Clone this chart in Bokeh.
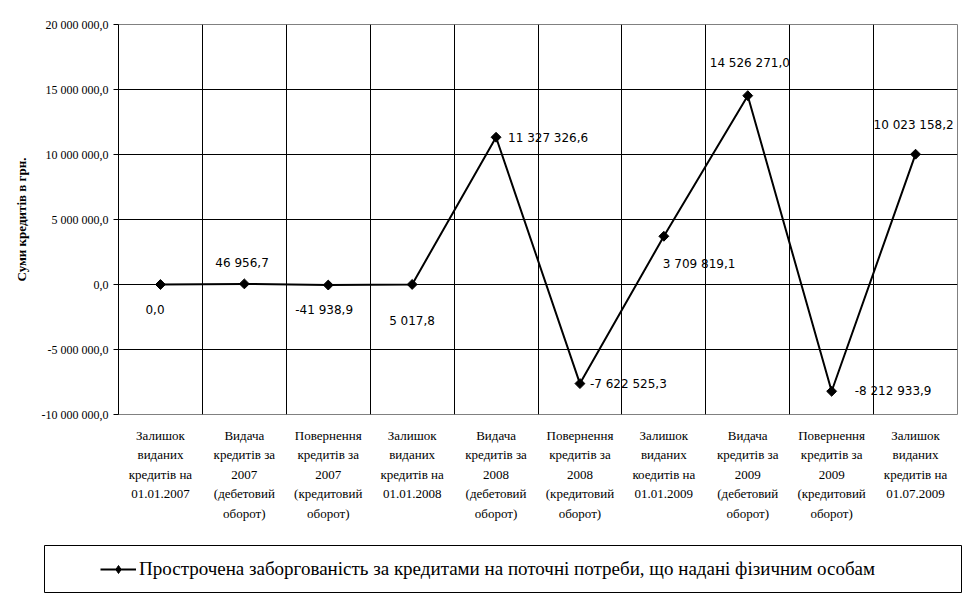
import math
from bokeh.plotting import figure
from bokeh.core.properties import value
from bokeh.models import Range1d, FixedTicker, ColumnDataSource, LabelSet, Legend, LegendItem, Spacer
from bokeh.layouts import column, row
from bokeh.embed import file_html
from bokeh.resources import INLINE

# ---- data ----
categories = [
    "Залишок\nвиданих\nкредитів на\n01.01.2007",
    "Видача\nкредитів за\n2007\n(дебетовий\nоборот)",
    "Повернення\nкредитів за\n2007\n(кредитовий\nоборот)",
    "Залишок\nвиданих\nкредитів на\n01.01.2008",
    "Видача\nкредитів за\n2008\n(дебетовий\nоборот)",
    "Повернення\nкредитів за\n2008\n(кредитовий\nоборот)",
    "Залишок\nвиданих\nкоедитів на\n01.01.2009",
    "Видача\nкредитів за\n2009\n(дебетовий\nоборот)",
    "Повернення\nкредитів за\n2009\n(кредитовий\nоборот)",
    "Залишок\nвиданих\nкредитів на\n01.07.2009",
]
values = [0.0, 46956.7, -41938.9, 5017.8, 11327326.6, -7622525.3,
          3709819.1, 14526271.0, -8212933.9, 10023158.2]
series_name = "Прострочена заборгованість за кредитами на поточні потреби, що надані фізичним особам"
y_ticks = [-10000000, -5000000, 0, 5000000, 10000000, 15000000, 20000000]
y_tick_labels = ["-10 000 000,0", "-5 000 000,0", "0,0", "5 000 000,0",
                 "10 000 000,0", "15 000 000,0", "20 000 000,0"]
y_axis_title = "Суми кредитів в грн."

# label placement (screen px: left edge offset, downward offset)
lab_dx = [-15, -29, -33, -23, 12, 10, -1, -38, 23, -42]
lab_dy = [25, -21, 25, 37, 1, 0, 28, -33, 0, -29]

def fmt(v):
    s = f"{abs(v):,.1f}".replace(",", " ").replace(".", ",")
    return ("-" if v < 0 else "") + s

xs = [i + 0.5 for i in range(len(categories))]
src = ColumnDataSource(dict(
    x=xs, y=values, txt=[fmt(v) for v in values],
    dx=lab_dx, dy=[-d for d in lab_dy],
))

SERIF = "Liberation Serif"

p = figure(width=968, height=538, output_backend="svg", toolbar_location=None,
           x_range=Range1d(0, len(categories)), y_range=Range1d(-10000000, 20000000),
           min_border_left=118, min_border_right=11, min_border_top=24, min_border_bottom=124)
p.outline_line_color = "#808080"
p.outline_line_width = 1

# grids
p.xgrid.ticker = FixedTicker(ticks=list(range(1, len(categories))))
p.xgrid.grid_line_color = "black"
p.ygrid.ticker = FixedTicker(ticks=y_ticks[1:-1])
p.ygrid.grid_line_color = "black"

# x axis
xa = p.xaxis[0]
xa.ticker = FixedTicker(ticks=xs)
xa.major_label_overrides = {x: c for x, c in zip(xs, categories)}
xa.major_tick_line_color = None
xa.minor_tick_line_color = None
xa.axis_line_color = None
xa.major_label_standoff = 7
xa.major_label_text_font = SERIF
xa.major_label_text_font_size = "13px"
xa.major_label_text_color = "black"
xa.major_label_text_line_height = 1.3

# y axis
ya = p.yaxis[0]
ya.ticker = FixedTicker(ticks=y_ticks)
ya.major_label_overrides = {t: l for t, l in zip(y_ticks, y_tick_labels)}
ya.minor_tick_line_color = None
ya.major_tick_out = 5
ya.major_tick_in = 0
ya.axis_line_color = "black"
ya.major_tick_line_color = "black"
ya.major_label_standoff = 5
ya.major_label_text_font = SERIF
ya.major_label_text_font_size = "12px"
ya.major_label_text_color = "black"
ya.axis_label = y_axis_title
ya.axis_label_text_font = SERIF
ya.axis_label_text_font_size = "13px"
ya.axis_label_text_font_style = "bold"
ya.axis_label_text_color = "black"
ya.axis_label_standoff = 10

p.line("x", "y", source=src, line_color="black", line_width=2)
p.scatter("x", "y", source=src, marker="square", angle=math.pi / 4, size=7,
          fill_color="black", line_color="black")

labels = LabelSet(x="x", y="y", text="txt", source=src, x_offset="dx", y_offset="dy",
                  text_align="left", text_baseline="middle",
                  text_font=value("DejaVu Sans"), text_font_size=value("12px"),
                  text_color="black")
p.add_layout(labels)

# legend box figure (series drawn out of view; only its legend entry shows)
lf = figure(width=918, height=48, output_backend="svg", toolbar_location=None,
            x_range=Range1d(100, 101), y_range=Range1d(100, 101),
            x_axis_location=None, y_axis_location=None, min_border=0)
lf.grid.visible = False
lf.outline_line_color = "black"
lf.outline_line_width = 1
lr = lf.line("x", "y", source=src, line_color="black", line_width=2)
lsc = lf.scatter("x", "y", source=src, marker="diamond", size=12,
                 fill_color="black", line_color="black")
leg = Legend(items=[LegendItem(label=series_name, renderers=[lr, lsc])],
             location="left", border_line_color=None, background_fill_alpha=0,
             padding=0, margin=56, glyph_width=36, label_standoff=3,
             label_text_font=SERIF, label_text_font_size="19px",
             label_text_color="black")
lf.add_layout(leg)

layout = column(p, Spacer(height=7), row(Spacer(width=44), lf))
open("out.html", "w").write(file_html(layout, INLINE))
